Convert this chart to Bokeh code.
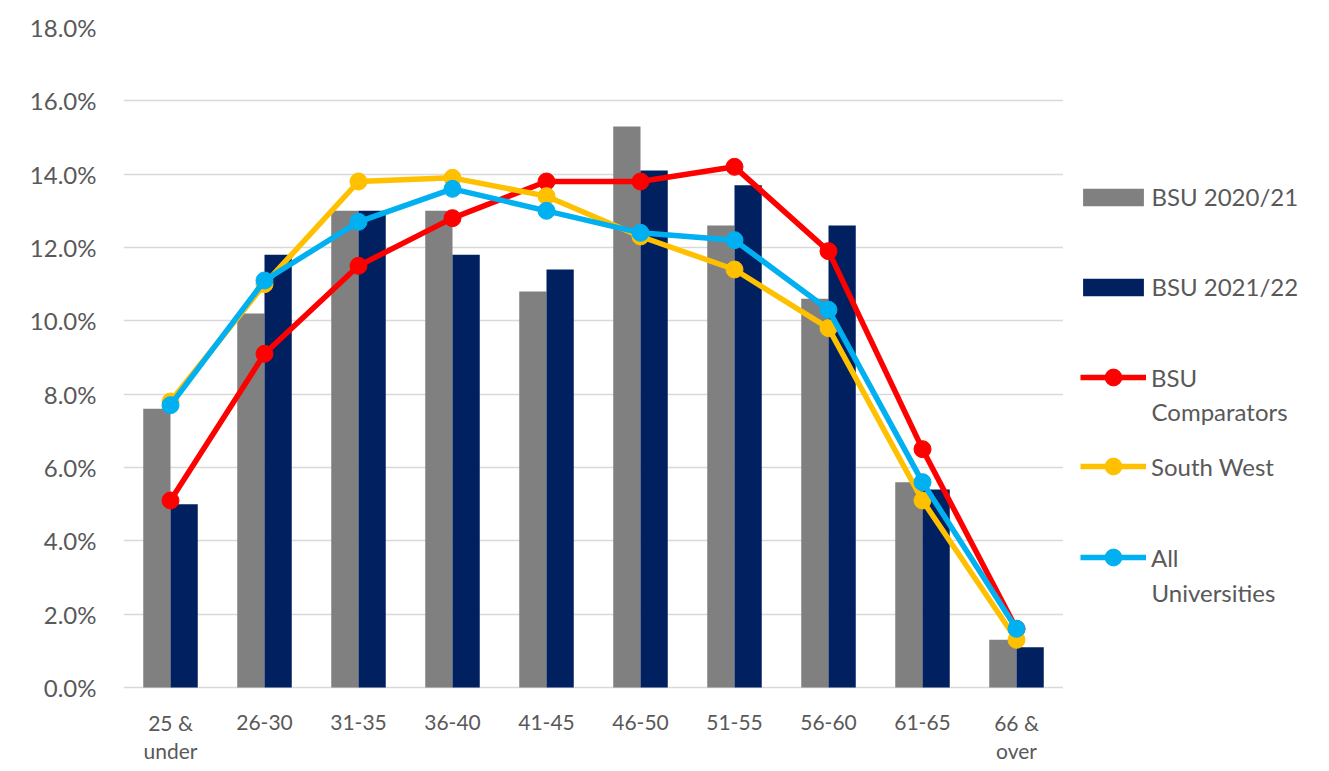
from bokeh.plotting import figure
from bokeh.layouts import row
from bokeh.models import (FactorRange, Range1d, Legend, LegendItem, Label,
                          PrintfTickFormatter, FixedTicker, ColumnDataSource)
from bokeh.core.properties import value
from bokeh.transform import dodge
from bokeh.embed import file_html
from bokeh.resources import INLINE

categories = ["25 & under", "26-30", "31-35", "36-40", "41-45",
              "46-50", "51-55", "56-60", "61-65", "66 & over"]
tick_labels_line1 = ["25 &", "26-30", "31-35", "36-40", "41-45",
                     "46-50", "51-55", "56-60", "61-65", "66 &"]
tick_labels_line2 = ["under", "", "", "", "", "", "", "", "", "over"]
bsu_2020_21 = [7.6, 10.2, 13.0, 13.0, 10.8, 15.3, 12.6, 10.6, 5.6, 1.3]
bsu_2021_22 = [5.0, 11.8, 13.0, 11.8, 11.4, 14.1, 13.7, 12.6, 5.4, 1.1]
bsu_comparators = [5.1, 9.1, 11.5, 12.8, 13.8, 13.8, 14.2, 11.9, 6.5, 1.6]
south_west = [7.8, 11.0, 13.8, 13.9, 13.4, 12.3, 11.4, 9.8, 5.1, 1.3]
all_universities = [7.7, 11.1, 12.7, 13.6, 13.0, 12.4, 12.2, 10.3, 5.6, 1.6]
y_ticks = [0, 2, 4, 6, 8, 10, 12, 14, 16, 18]

FONT = "Lato"
TXT = "#595959"
GRAY, NAVY, RED, YELLOW, BLUE = "#808080", "#002060", "#FF0000", "#FFC000", "#00B0F0"

H = 763            # figure height
TOP = 27           # frame top (18%)
ZERO = 687         # pixel row of 0%
PX_PER_UNIT = (ZERO - TOP) / 18.0
y_min = -(H - ZERO) / PX_PER_UNIT

def px_to_y(row_px):
    return -(row_px - ZERO) / PX_PER_UNIT

n = len(categories)
src = ColumnDataSource(dict(cat=categories, l1=tick_labels_line1,
                            l2=tick_labels_line2, a=bsu_2020_21,
                            b=bsu_2021_22, c=bsu_comparators, s=south_west,
                            u=all_universities,
                            y1=[px_to_y(722)] * n, y2=[px_to_y(750)] * n))

p = figure(x_range=FactorRange(*categories), y_range=Range1d(y_min, 18),
           width=1063, height=H, output_backend="svg", toolbar_location=None,
           min_border_left=123, min_border_right=0, min_border_top=TOP,
           min_border_bottom=0)
p.outline_line_color = None

p.vbar(x=dodge("cat", -0.145, range=p.x_range), top="a", width=0.29,
       source=src, fill_color=GRAY, line_color=None)
p.vbar(x=dodge("cat", 0.145, range=p.x_range), top="b", width=0.29,
       source=src, fill_color=NAVY, line_color=None)

for col, color in (("c", RED), ("s", YELLOW), ("u", BLUE)):
    p.line(x="cat", y=col, source=src, line_color=color, line_width=5.5,
           line_join="round")
    p.scatter(x="cat", y=col, source=src, size=17, fill_color=color,
              line_color=color)

# category labels (two rows), drawn as text below the zero line
for ycol, tcol in (("y1", "l1"), ("y2", "l2")):
    p.text(x="cat", y=ycol, text=tcol, source=src, text_align="center",
           text_baseline="middle", text_font=value(FONT),
           text_font_size="21px", text_color=TXT)

p.xaxis.visible = False
p.yaxis.ticker = FixedTicker(ticks=y_ticks)
p.yaxis.formatter = PrintfTickFormatter(format="%.1f%%")
p.yaxis.axis_line_color = None
p.yaxis.major_tick_line_color = None
p.yaxis.minor_tick_line_color = None
p.yaxis.major_tick_out = 0
p.yaxis.major_tick_in = 0
p.yaxis.major_label_standoff = 27
p.yaxis.major_label_text_font = FONT
p.yaxis.major_label_text_font_size = "24px"
p.yaxis.major_label_text_color = TXT

p.xgrid.grid_line_color = None
p.ygrid.ticker = FixedTicker(ticks=y_ticks)
p.ygrid.grid_line_color = "#D9D9D9"
p.ygrid.grid_line_width = 1.5

# legend panel
LW = 250
lf = figure(width=LW, height=H, x_range=Range1d(0, LW), y_range=Range1d(0, H),
            output_backend="svg", toolbar_location=None, min_border=0)
lf.axis.visible = False
lf.grid.visible = False
lf.outline_line_color = None
offscreen = ColumnDataSource(dict(x=[-1000], y=[-1000]))
la = lf.vbar(x="x", top="y", width=1, source=offscreen, fill_color=GRAY, line_color=None)
lb = lf.vbar(x="x", top="y", width=1, source=offscreen, fill_color=NAVY, line_color=None)
def dummy(color):
    l = lf.line(x="x", y="y", source=offscreen, line_color=color, line_width=5.5)
    m = lf.scatter(x="x", y="y", source=offscreen, size=17, fill_color=color, line_color=color)
    return [l, m]
lc, ls, lu = dummy(RED), dummy(YELLOW), dummy(BLUE)

def add_legend(label, renderers, x, bottom, gw, gh, standoff):
    lg = Legend(items=[LegendItem(label=label, renderers=renderers)],
                location=(x, H - bottom), padding=0, margin=0, spacing=0,
                border_line_color=None, background_fill_alpha=0,
                glyph_width=gw, glyph_height=gh, label_standoff=standoff,
                label_height=gh,
                label_text_font=FONT, label_text_font_size="24px",
                label_text_color=TXT)
    lf.add_layout(lg, "center")

add_legend("BSU 2020/21", [la], 12.4, 211, 76, 22, 0)
add_legend("BSU 2021/22", [lb], 12.4, 301, 76, 22, 0)
add_legend("BSU", lc, 17, 398, 66, 42, 5)
add_legend("South West", ls, 17, 487, 66, 42, 5)
add_legend("All", lu, 17, 578, 66, 42, 5)

# second lines of the two-line legend labels
for txt, row_px in (("Comparators", 411), ("Universities", 592)):
    lf.add_layout(Label(x=88, y=H - row_px, x_units="screen", y_units="screen",
                        text=txt, text_align="left", text_baseline="middle",
                        text_font=FONT, text_font_size="24px",
                        text_color=TXT))

open("out.html", "w").write(file_html(row(p, lf), INLINE))
